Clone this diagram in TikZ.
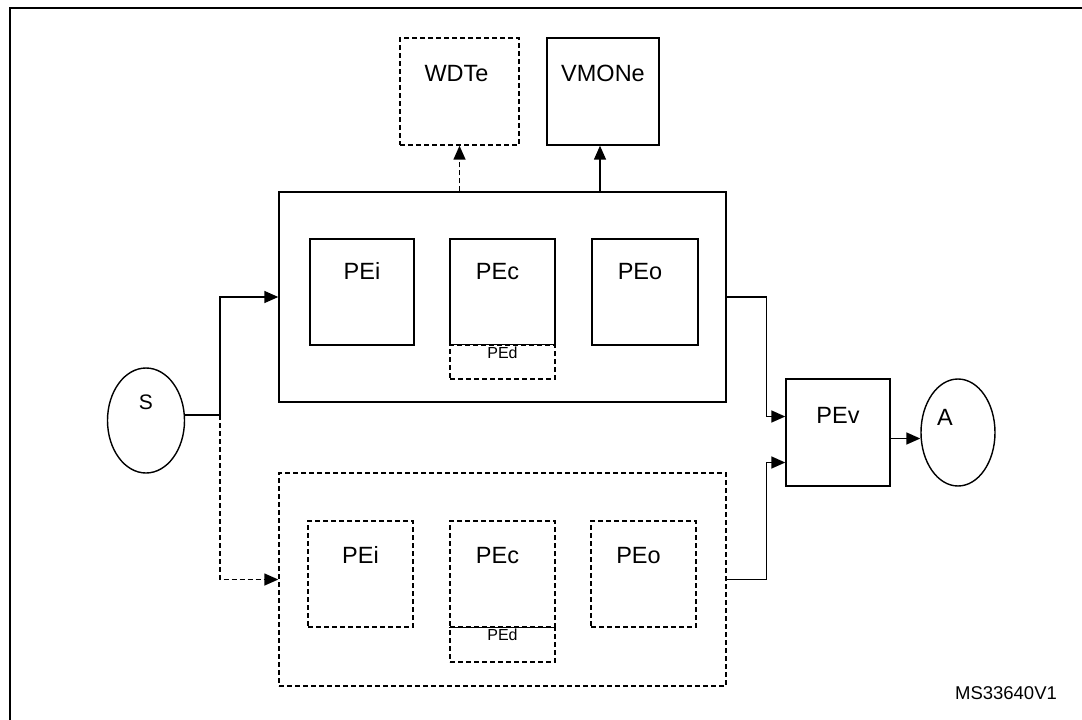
\documentclass[tikz,border=0pt]{standalone}
\usepackage{fontspec}
\setmainfont{Liberation Sans}
\usetikzlibrary{shapes.geometric,arrows.meta}
\tikzset{
  box/.style={draw, line width=1.4pt, inner sep=0pt},
  dbox/.style={box, dash pattern=on 5pt off 3pt},
  lbl/.style={inner sep=0pt, font=\fontsize{23.5}{27}\selectfont},
  sml/.style={inner sep=0pt, font=\fontsize{16}{19}\selectfont},
  arr/.style={line width=1.5pt, -{Triangle[length=14pt,width=12pt]}},
  darr/.style={arr, dash pattern=on 5pt off 3pt},
}
\begin{document}
\begin{tikzpicture}[x=1pt, y=-1pt]
\useasboundingbox (0,0) rectangle (1082,720);
\draw[line width=2pt] (10,720) -- (10,8) -- (1082,8);
% monitors
\node[dbox, minimum width=119pt, minimum height=107pt] (wdt) at (459.5,91.5) {};
\node[box, minimum width=112pt, minimum height=107pt] (vmon) at (603,91.5) {};
\node[lbl] at ([xshift=-3pt, yshift=18pt]wdt.center) {WDTe};
\node[lbl] at ([yshift=18pt]vmon.center) {VMONe};
% main channel
\node[box, minimum width=447pt, minimum height=210pt] (main) at (502.5,297) {};
\node[box, minimum width=104pt, minimum height=106pt] (pei1) at (362,292) {};
\node[box, minimum width=105pt, minimum height=106pt] (pec1) at (502.5,292) {};
\node[dbox, fill=white, minimum width=105pt, minimum height=34pt] (ped1) at (502.5,362) {};
\node[box, minimum width=106pt, minimum height=106pt] (peo1) at (645,292) {};
\node[lbl] at ([yshift=-33pt]pei1.north) {PEi};
\node[lbl] at ([xshift=-5pt, yshift=-33pt]pec1.north) {PEc};
\node[lbl] at ([xshift=-5pt, yshift=-33pt]peo1.north) {PEo};
\node[sml] at ([yshift=-8pt]ped1.north) {PEd};
% backup channel
\node[dbox, minimum width=447pt, minimum height=213pt] (bak) at (502.5,579.5) {};
\node[dbox, minimum width=105pt, minimum height=106pt] (pei2) at (360.5,574) {};
\node[dbox, minimum width=105pt, minimum height=106pt] (pec2) at (502.5,574) {};
\node[dbox, minimum width=105pt, minimum height=35pt] (ped2) at (502.5,644.5) {};
\node[dbox, minimum width=105pt, minimum height=106pt] (peo2) at (643.5,574) {};
\draw[line width=1.4pt] (pec2.south west) -- (pec2.south east);
\node[lbl] at ([yshift=-35pt]pei2.north) {PEi};
\node[lbl] at ([xshift=-5pt, yshift=-35pt]pec2.north) {PEc};
\node[lbl] at ([xshift=-5pt, yshift=-35pt]peo2.north) {PEo};
\node[sml] at ([yshift=-8pt]ped2.north) {PEd};
% source, voter, actuator
\node[ellipse, draw, line width=1.4pt, minimum width=77pt, minimum height=105pt] (S) at (146,420.5) {};
\node[lbl, font=\fontsize{21}{24}\selectfont] at ([yshift=18pt]S.center) {S};
\node[box, minimum width=104pt, minimum height=107pt] (pev) at (838,432.5) {};
\node[lbl] at ([yshift=17pt]pev.center) {PEv};
\node[ellipse, draw, line width=1.4pt, minimum width=74pt, minimum height=107pt] (A) at (958,432.5) {};
\node[lbl] at ([xshift=-13pt, yshift=15pt]A.center) {A};
\node[inner sep=0pt, font=\fontsize{18.5}{22}\selectfont] (ref) at (1006,693) {MS33640V1};
% connectors
\coordinate (j) at (220,415);
\draw[line width=1.5pt] (j -| S.east) -- (j);
\draw[arr] (j) |- (main.west);
\draw[darr] (j) |- (bak.west);
\draw[darr] (wdt.south |- main.north) -- (wdt.south);
\draw[arr] ([xshift=-3pt]vmon.south |- main.north) -- ([xshift=-3pt]vmon.south);
\draw[arr] (main.east) -- ++(40,0) |- ([yshift=16pt]pev.west);
\draw[arr] (bak.east) -- ++(40,0) |- ([yshift=-30pt]pev.west);
\draw[arr] ([yshift=-6pt]pev.east) -- ([yshift=-6pt]pev.east -| A.west);
\end{tikzpicture}
\end{document}
